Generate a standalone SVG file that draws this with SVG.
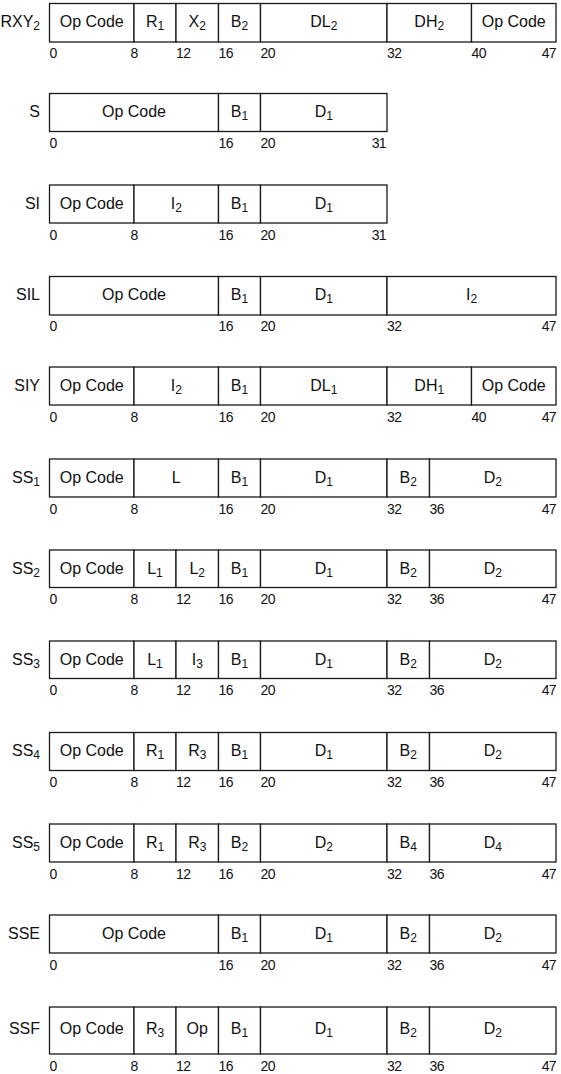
<svg xmlns="http://www.w3.org/2000/svg" width="561" height="1074" viewBox="0 0 561 1074">
<style>
.b{fill:#fff;stroke:#1a1a1a;stroke-width:1.3}
text{font-family:"Liberation Sans",Arial,sans-serif;fill:#111}
.l{font-size:16px;text-anchor:end}
.f{font-size:16px;text-anchor:middle}
.s{font-size:12px}
.n{font-size:14px;letter-spacing:-0.6px}
.e{text-anchor:end}
</style>
<rect width="561" height="1074" fill="#fff"/>

<g id="RXY2">
<rect class="b" x="49.5" y="3.5" width="84.5" height="38.5"/><rect class="b" x="134" y="3.5" width="42" height="38.5"/><rect class="b" x="176" y="3.5" width="42.5" height="38.5"/><rect class="b" x="218.5" y="3.5" width="42" height="38.5"/><rect class="b" x="260.5" y="3.5" width="126.5" height="38.5"/><rect class="b" x="387" y="3.5" width="84.5" height="38.5"/><rect class="b" x="471.5" y="3.5" width="84.5" height="38.5"/>
<text class="l" x="40" y="27">RXY<tspan class="s" dy="3">2</tspan></text>
<text class="f" x="91.75" y="27">Op Code</text><text class="f" x="155" y="27">R<tspan class="s" dy="3">1</tspan></text><text class="f" x="197.25" y="27">X<tspan class="s" dy="3">2</tspan></text><text class="f" x="239.5" y="27">B<tspan class="s" dy="3">2</tspan></text><text class="f" x="323.75" y="27">DL<tspan class="s" dy="3">2</tspan></text><text class="f" x="429.25" y="27">DH<tspan class="s" dy="3">2</tspan></text><text class="f" x="513.75" y="27">Op Code</text>
<text class="n" y="58"><tspan x="49.5">0</tspan><tspan x="130.5">8</tspan><tspan x="176">12</tspan><tspan x="218.5">16</tspan><tspan x="260.5">20</tspan><tspan x="387">32</tspan><tspan x="471.5">40</tspan></text><text class="n e" x="556" y="58">47</text>
</g>

<g id="S">
<rect class="b" x="49.5" y="93.5" width="169" height="38"/><rect class="b" x="218.5" y="93.5" width="42" height="38"/><rect class="b" x="260.5" y="93.5" width="126.5" height="38"/>
<text class="l" x="40" y="117">S</text>
<text class="f" x="134" y="117">Op Code</text><text class="f" x="239.5" y="117">B<tspan class="s" dy="3">1</tspan></text><text class="f" x="323.75" y="117">D<tspan class="s" dy="3">1</tspan></text>
<text class="n" y="148"><tspan x="49.5">0</tspan><tspan x="218.5">16</tspan><tspan x="260.5">20</tspan></text><text class="n e" x="386" y="148">31</text>
</g>

<g id="SI">
<rect class="b" x="49.5" y="185" width="84.5" height="38"/><rect class="b" x="134" y="185" width="84.5" height="38"/><rect class="b" x="218.5" y="185" width="42" height="38"/><rect class="b" x="260.5" y="185" width="126.5" height="38"/>
<text class="l" x="40" y="208.5">SI</text>
<text class="f" x="91.75" y="208.5">Op Code</text><text class="f" x="176.25" y="208.5">I<tspan class="s" dy="3">2</tspan></text><text class="f" x="239.5" y="208.5">B<tspan class="s" dy="3">1</tspan></text><text class="f" x="323.75" y="208.5">D<tspan class="s" dy="3">1</tspan></text>
<text class="n" y="239.5"><tspan x="49.5">0</tspan><tspan x="130.5">8</tspan><tspan x="218.5">16</tspan><tspan x="260.5">20</tspan></text><text class="n e" x="386" y="239.5">31</text>
</g>

<g id="SIL">
<rect class="b" x="49.5" y="276.5" width="169" height="38.5"/><rect class="b" x="218.5" y="276.5" width="42" height="38.5"/><rect class="b" x="260.5" y="276.5" width="126.5" height="38.5"/><rect class="b" x="387" y="276.5" width="169" height="38.5"/>
<text class="l" x="40" y="300">SIL</text>
<text class="f" x="134" y="300">Op Code</text><text class="f" x="239.5" y="300">B<tspan class="s" dy="3">1</tspan></text><text class="f" x="323.75" y="300">D<tspan class="s" dy="3">1</tspan></text><text class="f" x="471.5" y="300">I<tspan class="s" dy="3">2</tspan></text>
<text class="n" y="331"><tspan x="49.5">0</tspan><tspan x="218.5">16</tspan><tspan x="260.5">20</tspan><tspan x="387">32</tspan></text><text class="n e" x="556" y="331">47</text>
</g>

<g id="SIY">
<rect class="b" x="49.5" y="367" width="84.5" height="38"/><rect class="b" x="134" y="367" width="84.5" height="38"/><rect class="b" x="218.5" y="367" width="42" height="38"/><rect class="b" x="260.5" y="367" width="126.5" height="38"/><rect class="b" x="387" y="367" width="84.5" height="38"/><rect class="b" x="471.5" y="367" width="84.5" height="38"/>
<text class="l" x="40" y="390.5">SIY</text>
<text class="f" x="91.75" y="390.5">Op Code</text><text class="f" x="176.25" y="390.5">I<tspan class="s" dy="3">2</tspan></text><text class="f" x="239.5" y="390.5">B<tspan class="s" dy="3">1</tspan></text><text class="f" x="323.75" y="390.5">DL<tspan class="s" dy="3">1</tspan></text><text class="f" x="429.25" y="390.5">DH<tspan class="s" dy="3">1</tspan></text><text class="f" x="513.75" y="390.5">Op Code</text>
<text class="n" y="421.5"><tspan x="49.5">0</tspan><tspan x="130.5">8</tspan><tspan x="218.5">16</tspan><tspan x="260.5">20</tspan><tspan x="387">32</tspan><tspan x="471.5">40</tspan></text><text class="n e" x="556" y="421.5">47</text>
</g>

<g id="SS1">
<rect class="b" x="49.5" y="459" width="84.5" height="38"/><rect class="b" x="134" y="459" width="84.5" height="38"/><rect class="b" x="218.5" y="459" width="42" height="38"/><rect class="b" x="260.5" y="459" width="126.5" height="38"/><rect class="b" x="387" y="459" width="42.5" height="38"/><rect class="b" x="429.5" y="459" width="126.5" height="38"/>
<text class="l" x="40" y="482.5">SS<tspan class="s" dy="3">1</tspan></text>
<text class="f" x="91.75" y="482.5">Op Code</text><text class="f" x="176.25" y="482.5">L</text><text class="f" x="239.5" y="482.5">B<tspan class="s" dy="3">1</tspan></text><text class="f" x="323.75" y="482.5">D<tspan class="s" dy="3">1</tspan></text><text class="f" x="408.25" y="482.5">B<tspan class="s" dy="3">2</tspan></text><text class="f" x="492.75" y="482.5">D<tspan class="s" dy="3">2</tspan></text>
<text class="n" y="513.5"><tspan x="49.5">0</tspan><tspan x="130.5">8</tspan><tspan x="218.5">16</tspan><tspan x="260.5">20</tspan><tspan x="387">32</tspan><tspan x="429.5">36</tspan></text><text class="n e" x="556" y="513.5">47</text>
</g>

<g id="SS2">
<rect class="b" x="49.5" y="550" width="84.5" height="37.5"/><rect class="b" x="134" y="550" width="42" height="37.5"/><rect class="b" x="176" y="550" width="42.5" height="37.5"/><rect class="b" x="218.5" y="550" width="42" height="37.5"/><rect class="b" x="260.5" y="550" width="126.5" height="37.5"/><rect class="b" x="387" y="550" width="42.5" height="37.5"/><rect class="b" x="429.5" y="550" width="126.5" height="37.5"/>
<text class="l" x="40" y="573.5">SS<tspan class="s" dy="3">2</tspan></text>
<text class="f" x="91.75" y="573.5">Op Code</text><text class="f" x="155" y="573.5">L<tspan class="s" dy="3">1</tspan></text><text class="f" x="197.25" y="573.5">L<tspan class="s" dy="3">2</tspan></text><text class="f" x="239.5" y="573.5">B<tspan class="s" dy="3">1</tspan></text><text class="f" x="323.75" y="573.5">D<tspan class="s" dy="3">1</tspan></text><text class="f" x="408.25" y="573.5">B<tspan class="s" dy="3">2</tspan></text><text class="f" x="492.75" y="573.5">D<tspan class="s" dy="3">2</tspan></text>
<text class="n" y="604"><tspan x="49.5">0</tspan><tspan x="130.5">8</tspan><tspan x="176">12</tspan><tspan x="218.5">16</tspan><tspan x="260.5">20</tspan><tspan x="387">32</tspan><tspan x="429.5">36</tspan></text><text class="n e" x="556" y="604">47</text>
</g>

<g id="SS3">
<rect class="b" x="49.5" y="641" width="84.5" height="37.5"/><rect class="b" x="134" y="641" width="42" height="37.5"/><rect class="b" x="176" y="641" width="42.5" height="37.5"/><rect class="b" x="218.5" y="641" width="42" height="37.5"/><rect class="b" x="260.5" y="641" width="126.5" height="37.5"/><rect class="b" x="387" y="641" width="42.5" height="37.5"/><rect class="b" x="429.5" y="641" width="126.5" height="37.5"/>
<text class="l" x="40" y="664.5">SS<tspan class="s" dy="3">3</tspan></text>
<text class="f" x="91.75" y="664.5">Op Code</text><text class="f" x="155" y="664.5">L<tspan class="s" dy="3">1</tspan></text><text class="f" x="197.25" y="664.5">I<tspan class="s" dy="3">3</tspan></text><text class="f" x="239.5" y="664.5">B<tspan class="s" dy="3">1</tspan></text><text class="f" x="323.75" y="664.5">D<tspan class="s" dy="3">1</tspan></text><text class="f" x="408.25" y="664.5">B<tspan class="s" dy="3">2</tspan></text><text class="f" x="492.75" y="664.5">D<tspan class="s" dy="3">2</tspan></text>
<text class="n" y="695"><tspan x="49.5">0</tspan><tspan x="130.5">8</tspan><tspan x="176">12</tspan><tspan x="218.5">16</tspan><tspan x="260.5">20</tspan><tspan x="387">32</tspan><tspan x="429.5">36</tspan></text><text class="n e" x="556" y="695">47</text>
</g>

<g id="SS4">
<rect class="b" x="49.5" y="732.5" width="84.5" height="38"/><rect class="b" x="134" y="732.5" width="42" height="38"/><rect class="b" x="176" y="732.5" width="42.5" height="38"/><rect class="b" x="218.5" y="732.5" width="42" height="38"/><rect class="b" x="260.5" y="732.5" width="126.5" height="38"/><rect class="b" x="387" y="732.5" width="42.5" height="38"/><rect class="b" x="429.5" y="732.5" width="126.5" height="38"/>
<text class="l" x="40" y="756">SS<tspan class="s" dy="3">4</tspan></text>
<text class="f" x="91.75" y="756">Op Code</text><text class="f" x="155" y="756">R<tspan class="s" dy="3">1</tspan></text><text class="f" x="197.25" y="756">R<tspan class="s" dy="3">3</tspan></text><text class="f" x="239.5" y="756">B<tspan class="s" dy="3">1</tspan></text><text class="f" x="323.75" y="756">D<tspan class="s" dy="3">1</tspan></text><text class="f" x="408.25" y="756">B<tspan class="s" dy="3">2</tspan></text><text class="f" x="492.75" y="756">D<tspan class="s" dy="3">2</tspan></text>
<text class="n" y="787"><tspan x="49.5">0</tspan><tspan x="130.5">8</tspan><tspan x="176">12</tspan><tspan x="218.5">16</tspan><tspan x="260.5">20</tspan><tspan x="387">32</tspan><tspan x="429.5">36</tspan></text><text class="n e" x="556" y="787">47</text>
</g>

<g id="SS5">
<rect class="b" x="49.5" y="824" width="84.5" height="38"/><rect class="b" x="134" y="824" width="42" height="38"/><rect class="b" x="176" y="824" width="42.5" height="38"/><rect class="b" x="218.5" y="824" width="42" height="38"/><rect class="b" x="260.5" y="824" width="126.5" height="38"/><rect class="b" x="387" y="824" width="42.5" height="38"/><rect class="b" x="429.5" y="824" width="126.5" height="38"/>
<text class="l" x="40" y="847.5">SS<tspan class="s" dy="3">5</tspan></text>
<text class="f" x="91.75" y="847.5">Op Code</text><text class="f" x="155" y="847.5">R<tspan class="s" dy="3">1</tspan></text><text class="f" x="197.25" y="847.5">R<tspan class="s" dy="3">3</tspan></text><text class="f" x="239.5" y="847.5">B<tspan class="s" dy="3">2</tspan></text><text class="f" x="323.75" y="847.5">D<tspan class="s" dy="3">2</tspan></text><text class="f" x="408.25" y="847.5">B<tspan class="s" dy="3">4</tspan></text><text class="f" x="492.75" y="847.5">D<tspan class="s" dy="3">4</tspan></text>
<text class="n" y="878.5"><tspan x="49.5">0</tspan><tspan x="130.5">8</tspan><tspan x="176">12</tspan><tspan x="218.5">16</tspan><tspan x="260.5">20</tspan><tspan x="387">32</tspan><tspan x="429.5">36</tspan></text><text class="n e" x="556" y="878.5">47</text>
</g>

<g id="SSE">
<rect class="b" x="49.5" y="915" width="169" height="38"/><rect class="b" x="218.5" y="915" width="42" height="38"/><rect class="b" x="260.5" y="915" width="126.5" height="38"/><rect class="b" x="387" y="915" width="42.5" height="38"/><rect class="b" x="429.5" y="915" width="126.5" height="38"/>
<text class="l" x="40" y="938.5">SSE</text>
<text class="f" x="134" y="938.5">Op Code</text><text class="f" x="239.5" y="938.5">B<tspan class="s" dy="3">1</tspan></text><text class="f" x="323.75" y="938.5">D<tspan class="s" dy="3">1</tspan></text><text class="f" x="408.25" y="938.5">B<tspan class="s" dy="3">2</tspan></text><text class="f" x="492.75" y="938.5">D<tspan class="s" dy="3">2</tspan></text>
<text class="n" y="969.5"><tspan x="49.5">0</tspan><tspan x="218.5">16</tspan><tspan x="260.5">20</tspan><tspan x="387">32</tspan><tspan x="429.5">36</tspan></text><text class="n e" x="556" y="969.5">47</text>
</g>

<g id="SSF">
<rect class="b" x="49.5" y="1007" width="84.5" height="47"/><rect class="b" x="134" y="1007" width="42" height="47"/><rect class="b" x="176" y="1007" width="42.5" height="47"/><rect class="b" x="218.5" y="1007" width="42" height="47"/><rect class="b" x="260.5" y="1007" width="126.5" height="47"/><rect class="b" x="387" y="1007" width="42.5" height="47"/><rect class="b" x="429.5" y="1007" width="126.5" height="47"/>
<text class="l" x="40" y="1034">SSF</text>
<text class="f" x="91.75" y="1034">Op Code</text><text class="f" x="155" y="1034">R<tspan class="s" dy="3">3</tspan></text><text class="f" x="197.25" y="1034">Op</text><text class="f" x="239.5" y="1034">B<tspan class="s" dy="3">1</tspan></text><text class="f" x="323.75" y="1034">D<tspan class="s" dy="3">1</tspan></text><text class="f" x="408.25" y="1034">B<tspan class="s" dy="3">2</tspan></text><text class="f" x="492.75" y="1034">D<tspan class="s" dy="3">2</tspan></text>
<text class="n" y="1071"><tspan x="49.5">0</tspan><tspan x="130.5">8</tspan><tspan x="176">12</tspan><tspan x="218.5">16</tspan><tspan x="260.5">20</tspan><tspan x="387">32</tspan><tspan x="429.5">36</tspan></text><text class="n e" x="556" y="1071">47</text>
</g>
</svg>
